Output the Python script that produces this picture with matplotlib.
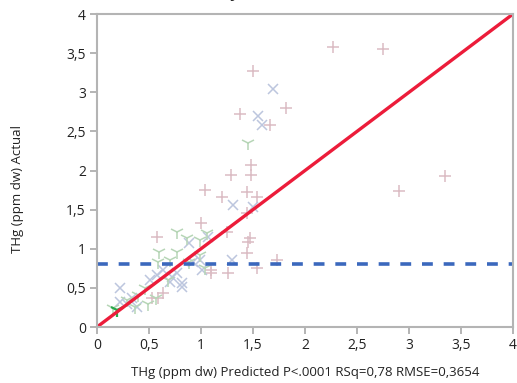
import matplotlib.pyplot as plt

plt.rcParams['font.family'] = ['Open Sans', 'DejaVu Sans']

# predicted / actual THg (ppm dw), three groups of samples
pink_x = [2.27, 2.75, 1.50, 1.375, 1.82, 1.66, 1.48, 1.48, 1.29, 1.04, 1.20, 1.44, 1.54,
          2.90, 3.35, 1.44, 1.00, 1.25, 1.47, 1.45, 0.58, 1.44, 1.73, 1.54, 1.10, 1.26,
          1.10, 0.63, 0.59, 0.53]
pink_y = [3.58, 3.55, 3.27, 2.72, 2.80, 2.58, 2.07, 1.94, 1.94, 1.75, 1.66, 1.73, 1.66,
          1.74, 1.93, 1.46, 1.33, 1.21, 1.14, 1.09, 1.15, 0.94, 0.86, 0.75, 0.69, 0.69,
          0.73, 0.43, 0.37, 0.37]

blue_x = [1.69, 1.55, 1.59, 1.50, 1.31, 1.07, 0.88, 1.30, 1.01, 0.92, 0.22, 0.22, 0.51,
          0.70, 0.82, 0.82, 0.72, 0.58, 0.77, 0.63, 0.34, 0.38, 0.29, 0.99]
blue_y = [3.04, 2.70, 2.58, 1.54, 1.56, 1.15, 1.07, 0.86, 0.73, 0.83, 0.50, 0.32, 0.60,
          0.58, 0.56, 0.51, 0.64, 0.66, 0.69, 0.73, 0.37, 0.26, 0.30, 0.86]

green_x = [1.45, 0.77, 0.87, 0.60, 0.77, 0.59, 0.70, 0.99, 0.99, 1.04, 0.88, 0.46, 0.39,
           0.49, 0.57, 0.68, 0.37, 0.29, 0.15, 1.06]
green_y = [2.35, 1.21, 1.14, 0.96, 0.96, 0.83, 0.86, 1.11, 0.92, 0.75, 0.83, 0.50, 0.41,
           0.30, 0.37, 0.60, 0.26, 0.35, 0.24, 1.20]

sel_x = [0.19]
sel_y = [0.22]

ref_level = 0.8
ticks = [0, 0.5, 1, 1.5, 2, 2.5, 3, 3.5, 4]
tick_labels = ['0', '0,5', '1', '1,5', '2', '2,5', '3', '3,5', '4']

fig = plt.figure(figsize=(5.17, 3.83), dpi=100)
ax = fig.add_axes([0.1876, 0.1462, 0.8047, 0.8172])

ax.plot(pink_x, pink_y, ls='none', marker='+', ms=9, mew=1.1, color='#dbbcc3')
ax.plot(blue_x, blue_y, ls='none', marker='x', ms=7.5, mew=1.1, color='#bcc6de')
ax.plot(green_x, green_y, ls='none', marker='1', ms=10, mew=1.1, color='#b7d6b7')
ax.plot(sel_x, sel_y, ls='none', marker='1', ms=10, mew=1.6, color='#2aa84a')

ax.plot([0, 4], [0, 4], color='#ec1c3a', lw=2.4, solid_capstyle='butt')
ax.axhline(ref_level, color='#3b68bd', lw=2.6, ls=(0, (3, 3)))

ax.set_xlim(0, 4)
ax.set_ylim(0, 4)
ax.set_xticks(ticks)
ax.set_xticklabels(tick_labels)
ax.set_yticks(ticks)
ax.set_yticklabels(tick_labels)
ax.tick_params(direction='out', length=5, width=1.2, color='#a8a8a8',
               labelsize=10, labelcolor='#222222', pad=3)
for s in ax.spines.values():
    s.set_color('#b4b4b4')
    s.set_linewidth(1.5)

ax.set_xlabel('THg (ppm dw) Predicted P<.0001 RSq=0,78 RMSE=0,3654',
              fontsize=9.5, color='#222222', labelpad=9)
ax.set_ylabel('THg (ppm dw) Actual', fontsize=9.5, color='#222222')
ax.yaxis.set_label_coords(-0.175, 0.44)

fig.text(0.5, 1.005, 'Actual by Predicted Plot', ha='center', va='baseline',
         fontsize=11, fontweight='bold', color='#222222')

fig.savefig('out.png', dpi=100)
